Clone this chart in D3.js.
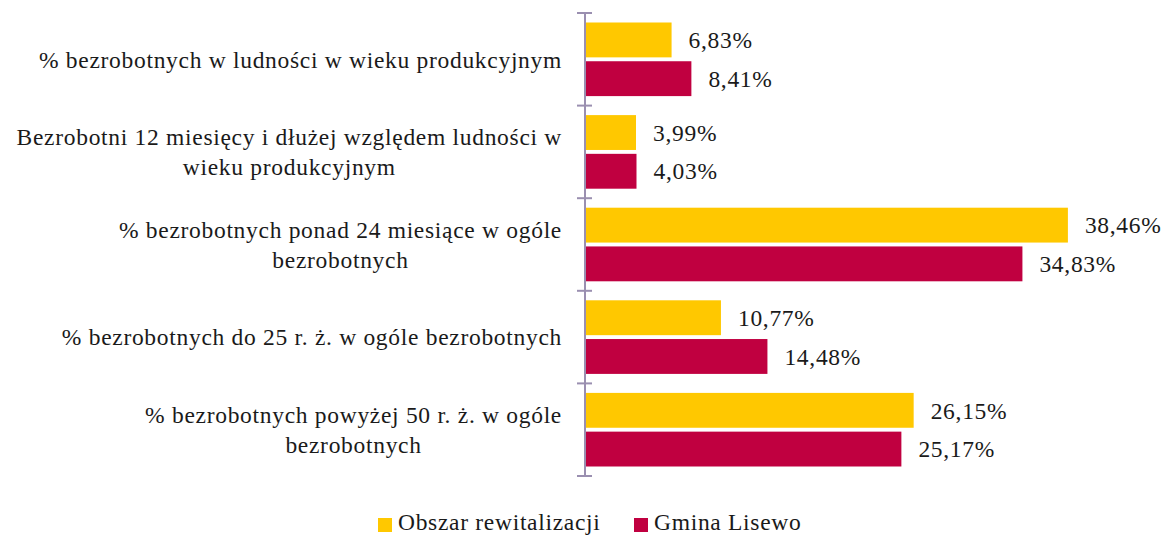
<!DOCTYPE html>
<html>
<head>
<meta charset="utf-8">
<script src="https://cdn.jsdelivr.net/npm/d3@7"></script>
<style>
  body { margin: 0; background: #fff; }
  svg { display: block; }
</style>
</head>
<body>
<div id="chart"></div>
<script>
// Category labels, already split into lines as in the original
const categories = [
    ["% bezrobotnych w ludności w wieku produkcyjnym"],
    ["Bezrobotni 12 miesięcy i dłużej względem ludności w", "wieku produkcyjnym"],
    ["% bezrobotnych ponad 24 miesiące w ogóle", "bezrobotnych"],
    ["% bezrobotnych do 25 r. ż. w ogóle bezrobotnych"],
    ["% bezrobotnych powyżej 50 r. ż. w ogóle", "bezrobotnych"]
];
const seriesNames = ["Obszar rewitalizacji", "Gmina Lisewo"];
const obszar = [6.83, 3.99, 38.46, 10.77, 26.15];
const gmina = [8.41, 4.03, 34.83, 14.48, 25.17];
const colors = ["#FFC800", "#C00040"];

const width = 1165, height = 537;
const font = "'Liberation Serif', 'Times New Roman', serif";
const fontSize = "23.5px";
const spacing = "0.7px";

const svg = d3.select("#chart").append("svg")
    .attr("width", width)
    .attr("height", height)
    .style("font-family", font)
    .style("letter-spacing", spacing);

// scales
const x = d3.scaleLinear().domain([0, 40]).range([586, 586 + 40 * 12.53]);
const y = d3.scaleBand().domain(d3.range(categories.length)).range([13, 476]);
const inner = d3.scaleBand().domain([0, 1]).range([9.5, y.bandwidth() - 9.5]).paddingInner(0.1);

const rows = categories.map((c, i) => ({ i: i, values: [obszar[i], gmina[i]] }));

const g = svg.append("g");
const row = g.selectAll("g.row").data(rows).enter().append("g")
    .attr("transform", d => `translate(0,${y(d.i)})`);

row.selectAll("rect").data(d => d.values).enter().append("rect")
    .attr("x", x(0))
    .attr("y", (v, j) => inner(j))
    .attr("height", inner.bandwidth())
    .attr("width", v => x(v) - x(0))
    .attr("fill", (v, j) => colors[j]);

row.selectAll("text.val").data(d => d.values).enter().append("text")
    .attr("class", "val")
    .attr("x", v => x(v) + 17)
    .attr("y", (v, j) => inner(j) + inner.bandwidth() / 2)
    .attr("dy", "0.35em")
    .style("font-size", fontSize)
    .attr("fill", "#1a1a1a")
    .text(v => d3.format(".2f")(v).replace(".", ",") + "%");

// axis line with ticks at category boundaries
const axisColor = "#9A8FB0";
g.append("line")
    .attr("x1", 585).attr("x2", 585)
    .attr("y1", y.range()[0]).attr("y2", y.range()[1])
    .attr("stroke", axisColor).attr("stroke-width", 2);
const bounds = d3.range(categories.length + 1).map(i => y.range()[0] + i * y.step());
g.selectAll("line.tick").data(bounds).enter().append("line")
    .attr("x1", 577).attr("x2", 592)
    .attr("y1", d => d).attr("y2", d => d)
    .attr("stroke", axisColor).attr("stroke-width", 2);

// category labels: block right aligned, lines centered within block
const labelRight = 562;
const lineH = 30;
categories.forEach((lines, i) => {
    const t = g.append("text")
        .style("font-size", fontSize)
        .attr("fill", "#1a1a1a")
        .attr("text-anchor", "middle");
    const spans = lines.map((l, k) => t.append("tspan")
        .attr("y", y(i) + y.bandwidth() / 2 + (k - (lines.length - 1) / 2) * lineH)
        .attr("dy", "0.35em")
        .text(l));
    const maxW = d3.max(spans, s => s.node().getComputedTextLength());
    spans.forEach(s => s.attr("x", labelRight - maxW / 2));
});

// legend
const legend = svg.append("g").attr("transform", "translate(378,518)");
const legX = [0, 256];
seriesNames.forEach((name, j) => {
    legend.append("rect")
        .attr("x", legX[j]).attr("y", 0)
        .attr("width", 14).attr("height", 14)
        .attr("fill", colors[j]);
    legend.append("text")
        .attr("x", legX[j] + 20).attr("y", 12)
        .style("font-size", fontSize)
        .attr("fill", "#1a1a1a")
        .text(name);
});
</script>
</body>
</html>
